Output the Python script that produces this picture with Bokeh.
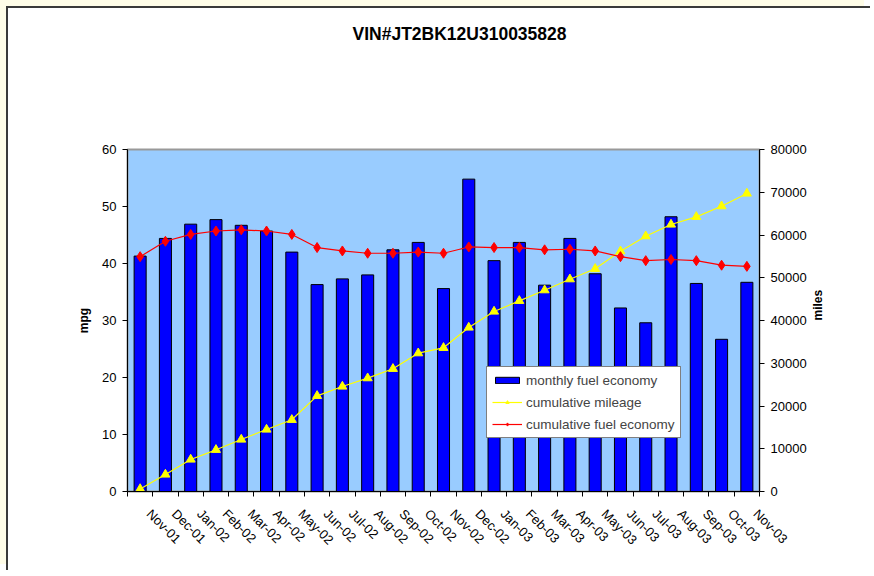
import math
from bokeh.plotting import figure
from bokeh.models import (Range1d, LinearAxis, FixedTicker, Title,
                          CustomJSTickFormatter, Legend, LegendItem, ColumnDataSource)
from bokeh.embed import file_html
from bokeh.resources import INLINE

title_text = "VIN#JT2BK12U310035828"

months = ["Nov-01", "Dec-01", "Jan-02", "Feb-02", "Mar-02", "Apr-02", "May-02", "Jun-02",
          "Jul-02", "Aug-02", "Sep-02", "Oct-02", "Nov-02", "Dec-02", "Jan-03", "Feb-03",
          "Mar-03", "Apr-03", "May-03", "Jun-03", "Jul-03", "Aug-03", "Sep-03", "Oct-03", "Nov-03"]

monthly_mpg = [41.3, 44.4, 46.9, 47.7, 46.7, 45.7, 42.0, 36.3, 37.3, 38.0, 42.4, 43.7, 35.6,
               54.8, 40.5, 43.7, 36.2, 44.4, 38.2, 32.2, 29.6, 48.2, 36.5, 26.7, 36.7]

cum_miles = [600, 3980, 7490, 9750, 12160, 14500, 16770, 22380, 24560, 26510, 28700, 32350,
             33610, 38360, 42100, 44600, 47090, 49660, 52090, 56210, 59720, 62460, 64250,
             66740, 69710]

cum_mpg = [41.2, 43.9, 45.1, 45.7, 45.9, 45.7, 45.1, 42.8, 42.2, 41.8, 41.8, 42.0, 41.8,
           42.9, 42.8, 42.8, 42.4, 42.5, 42.2, 41.2, 40.5, 40.7, 40.5, 39.7, 39.5]

left_ticks = [0, 10, 20, 30, 40, 50, 60]
right_ticks = [0, 10000, 20000, 30000, 40000, 50000, 60000, 70000, 80000]

n = len(months)
centers = [i + 0.5 for i in range(n)]       # category slot centres
bounds = list(range(n + 1))                  # category slot boundaries
label_anchor = [c + 0.35 for c in centers]   # where rotated month labels start

src = ColumnDataSource(dict(x=centers, month=months, mpg=monthly_mpg,
                            miles=cum_miles, cmpg=cum_mpg))

FONT = "Liberation Sans"

p = figure(width=864, height=564, x_range=Range1d(0, n),
           y_range=Range1d(left_ticks[0], left_ticks[-1]),
           output_backend="svg", toolbar_location=None, title_location=None,
           x_axis_location=None, y_axis_location=None,
           min_border_left=119, min_border_right=113, min_border_top=141, min_border_bottom=81)
p.extra_y_ranges = {"miles": Range1d(right_ticks[0], right_ticks[-1])}
p.styles = {"margin-left": "6px", "margin-top": "6px",
            "border-left": "2px solid #3a3a3a", "border-top": "2px solid #3a3a3a",
            "box-shadow": "-6px -6px 0 0 #FFFDE8"}

# spacer panel (closest to frame) then the real title above it
p.add_layout(Title(text=" ", text_font_size="10px", standoff=88), "above")
p.add_layout(Title(text=title_text, text_font=FONT, text_font_size="17.5px",
                   text_font_style="bold", text_color="black", align="left",
                   offset=225, standoff=10), "above")

p.background_fill_color = "#99CCFF"
p.border_fill_color = "white"
p.outline_line_color = "#999999"
p.outline_line_width = 2
p.xgrid.visible = False
p.ygrid.visible = False

# bars
bars = p.vbar(x="x", top="mpg", width=0.476, source=src,
              fill_color="#0000FF", line_color="black", line_width=1)

# cumulative mileage (right axis)
ml = p.line(x="x", y="miles", source=src, y_range_name="miles",
            line_color="#FFFF00", line_width=1.2)
ms = p.scatter(x="x", y="miles", source=src, y_range_name="miles",
               marker="triangle", size=9, fill_color="#FFFF00", line_color="#FFFF00")

# cumulative fuel economy (left axis)
el = p.line(x="x", y="cmpg", source=src, line_color="#FF0000", line_width=1.2)
es = p.scatter(x="x", y="cmpg", source=src, marker="diamond", size=10,
               fill_color="#FF0000", line_color="#FF0000")

# axes
xaxis = LinearAxis(ticker=FixedTicker(ticks=label_anchor, minor_ticks=bounds),
                   formatter=CustomJSTickFormatter(args=dict(labels=months),
                                                   code="const i = Math.floor(tick); return (i >= 0 && i < labels.length) ? labels[i] : '';"),
                   major_tick_line_color=None, major_tick_out=0, major_tick_in=0,
                   minor_tick_line_color="black", minor_tick_out=5, minor_tick_in=0,
                   major_label_orientation=-math.pi / 4, major_label_standoff=15,
                   major_label_text_font=FONT, major_label_text_font_size="13px",
                   major_label_text_color="black",
                   axis_line_color="black", axis_line_width=1)
p.add_layout(xaxis, "below")

yaxis = LinearAxis(ticker=FixedTicker(ticks=left_ticks, minor_ticks=[]),
                   axis_label="mpg", axis_label_text_font=FONT, axis_label_text_font_size="12px",
                   axis_label_text_font_style="bold", axis_label_text_color="black",
                   axis_label_standoff=8,
                   major_tick_out=5, major_tick_in=0, major_tick_line_color="black",
                   minor_tick_line_color=None, major_label_standoff=6,
                   major_label_text_font=FONT, major_label_text_font_size="13px",
                   major_label_text_color="black", axis_line_color="black")
p.add_layout(yaxis, "left")

raxis = LinearAxis(y_range_name="miles", ticker=FixedTicker(ticks=right_ticks, minor_ticks=[]),
                   axis_label="miles", axis_label_text_font=FONT, axis_label_text_font_size="12px",
                   axis_label_text_font_style="bold", axis_label_text_color="black",
                   axis_label_standoff=8,
                   major_tick_out=5, major_tick_in=0, major_tick_line_color="black",
                   minor_tick_line_color=None, major_label_standoff=6,
                   major_label_text_font=FONT, major_label_text_font_size="13px",
                   major_label_text_color="black", axis_line_color="black")
if "axis_label_orientation" in raxis.properties():
    raxis.axis_label_orientation = math.pi / 2
p.add_layout(raxis, "right")

legend = Legend(items=[LegendItem(label="monthly fuel economy", renderers=[bars]),
                       LegendItem(label="cumulative mileage", renderers=[ml, ms]),
                       LegendItem(label="cumulative fuel economy", renderers=[el, es])],
                location=(359, 53), border_line_color="black", border_line_width=1,
                background_fill_color="white", background_fill_alpha=1,
                label_text_font=FONT, label_text_font_size="13.5px",
                glyph_width=30, glyph_height=8, label_height=16, label_standoff=4,
                spacing=6, padding=5, margin=0)
p.add_layout(legend)

open("out.html", "w").write(file_html(p, INLINE))
